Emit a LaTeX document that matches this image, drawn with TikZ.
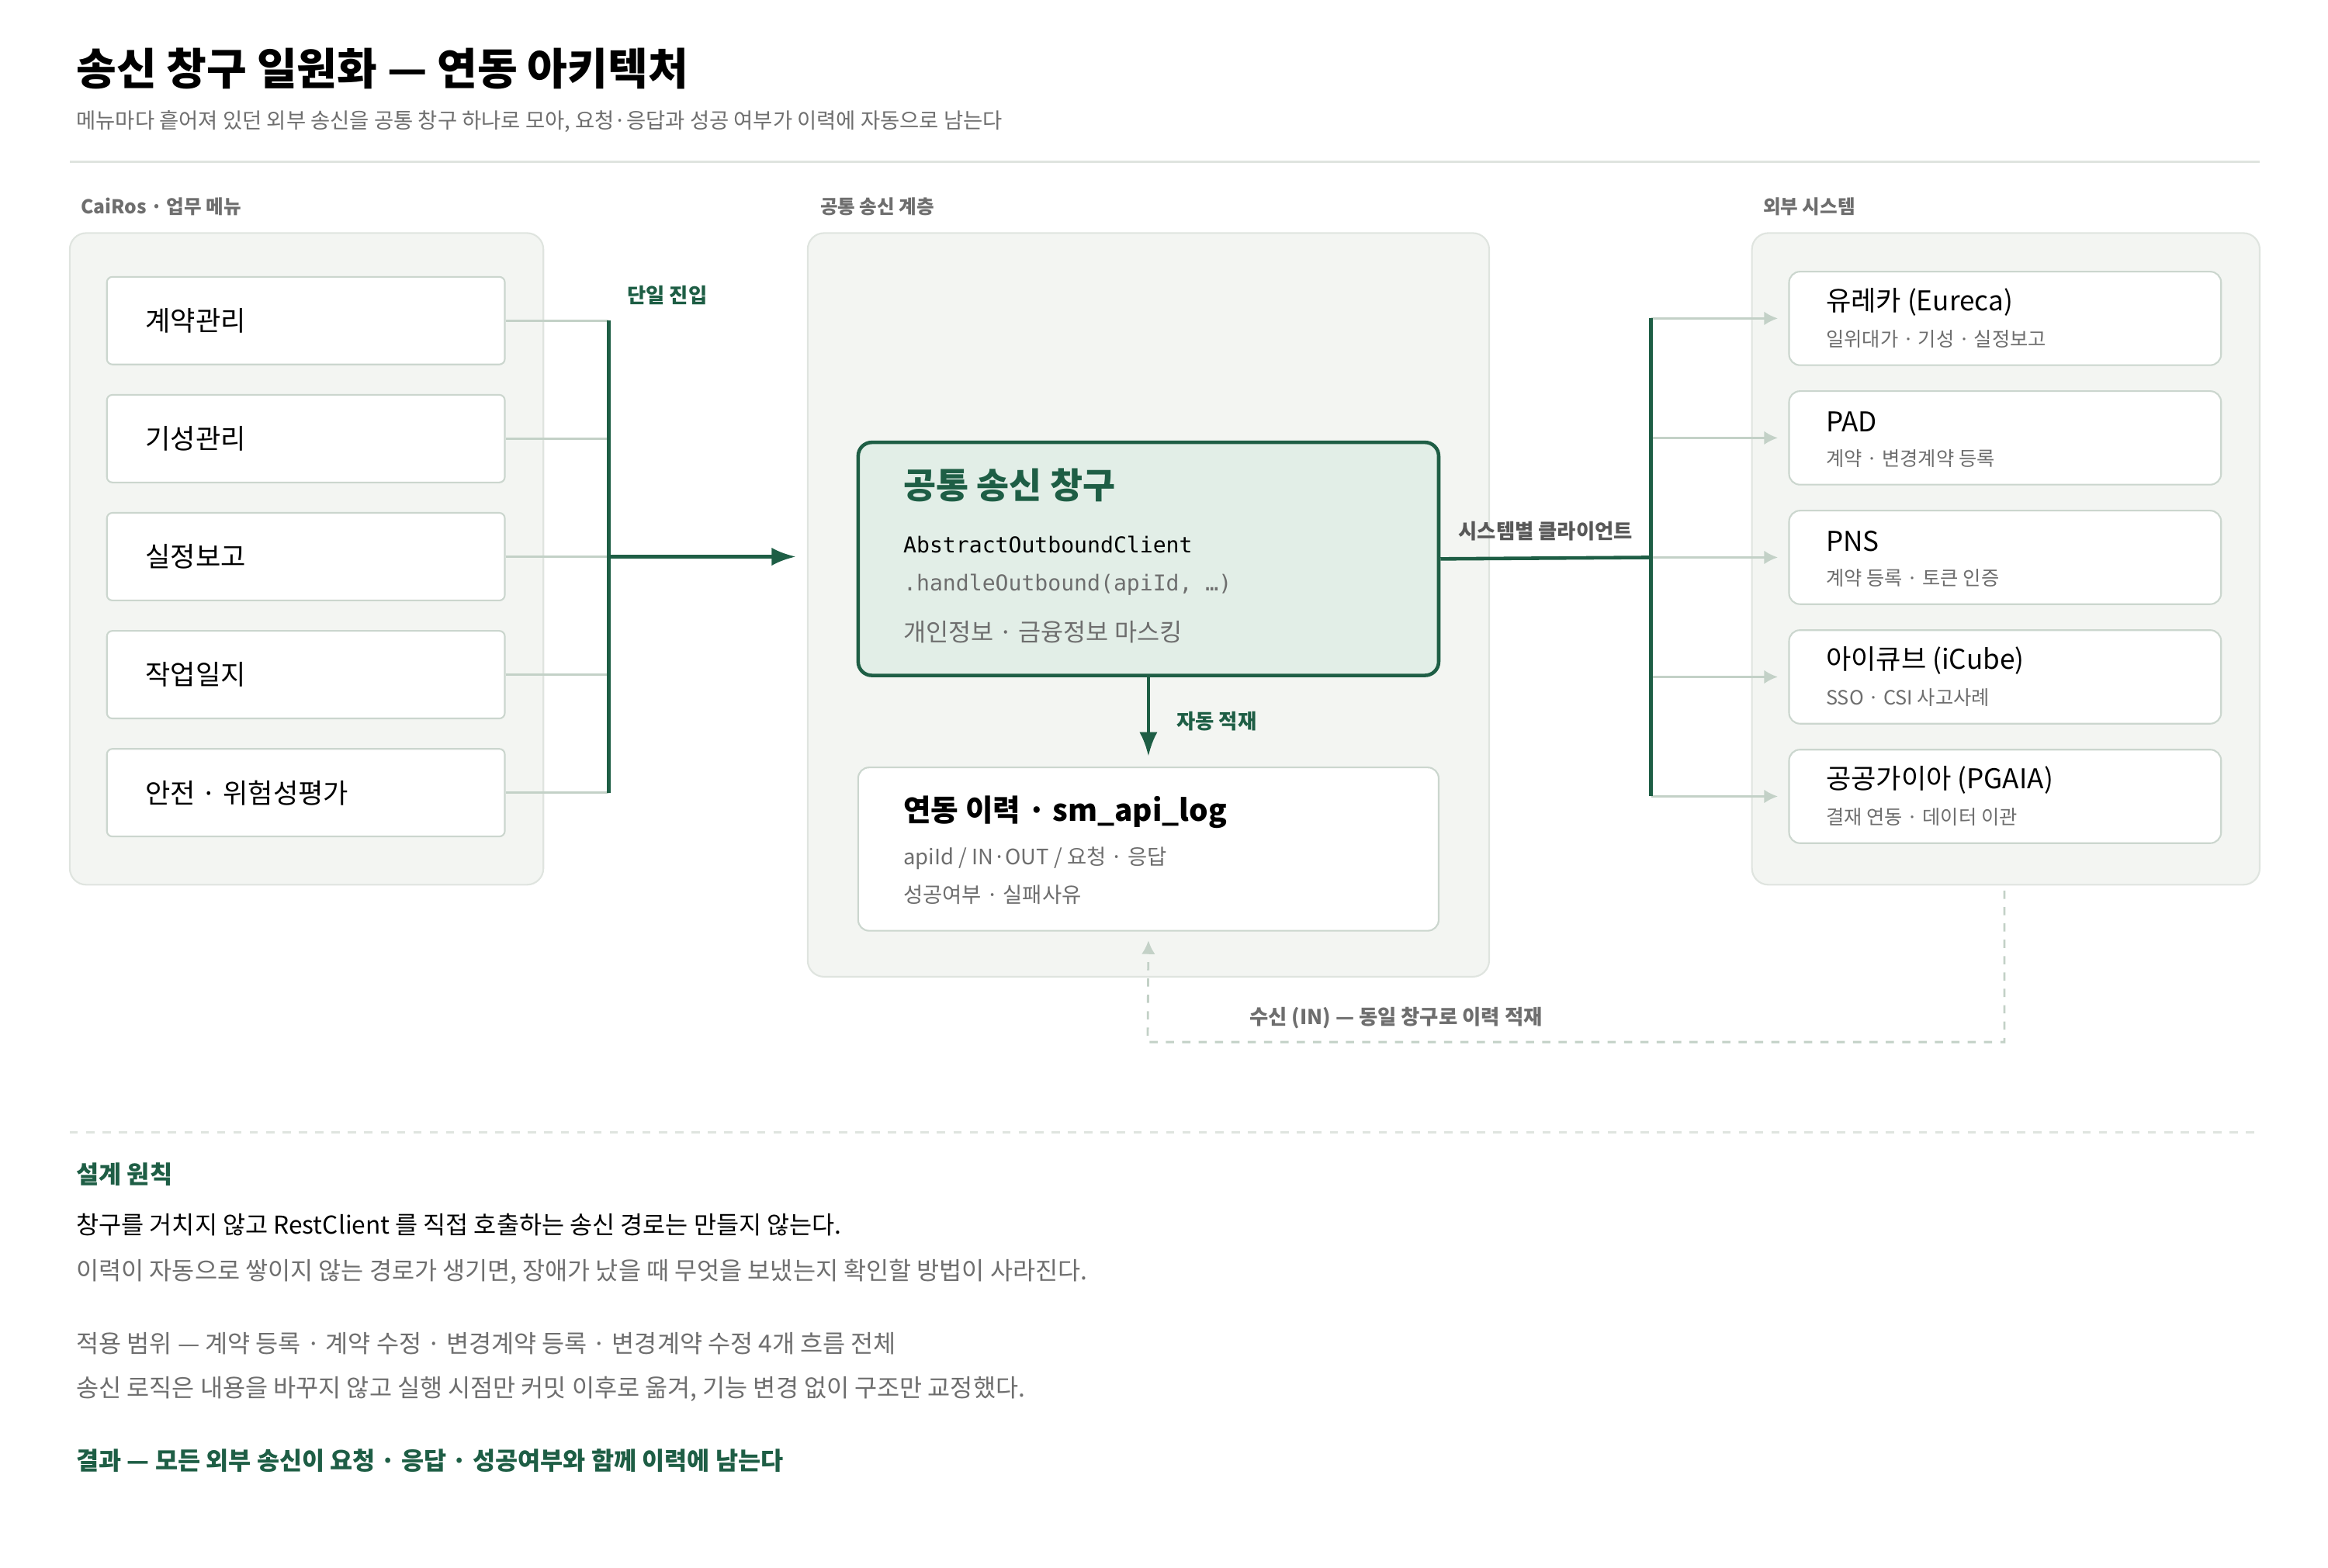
\documentclass[tikz,border=0pt]{standalone}
\usepackage{fontspec}
\setmainfont{Noto Sans CJK KR}
\setmonofont{DejaVu Sans Mono}
\usetikzlibrary{positioning,calc,arrows.meta}
\tikzset{>=Latex}
\definecolor{dgreen}{HTML}{1E5E45}
\definecolor{lgreen}{HTML}{E2EEE7}
\definecolor{panelbg}{HTML}{F3F5F2}
\definecolor{panelln}{HTML}{DFE4DF}
\definecolor{boxln}{HTML}{CBD6CE}
\definecolor{txtgray}{HTML}{6E6E6E}
\definecolor{conn}{HTML}{C3D1C7}
\newcommand\px[1]{#1*0.01913cm}
\begin{document}
\begin{tikzpicture}[x=0.01913cm,y=-0.01913cm,
                    panel/.style={draw=panelln,fill=panelbg,rounded corners=6pt,line width=0.6pt},
                    menu/.style={draw=boxln,fill=white,rounded corners=2pt,line width=0.6pt,
                                 minimum width={\px{268}},minimum height={\px{59}}},
                    ext/.style={draw=boxln,fill=white,rounded corners=4pt,line width=0.6pt,
                                minimum width={\px{291}},minimum height={\px{63}}},
                    seclabel/.style={anchor=west,font=\fontsize{7}{8}\selectfont\bfseries,text=txtgray},
                    grayline/.style={anchor=west,font=\fontsize{9}{11}\selectfont,text=txtgray},
                    light/.style={draw=conn,line width=0.8pt},
                    strong/.style={draw=dgreen,line width=1.3pt}
        ]
\useasboundingbox (0,0) rectangle (1568,1056);
% heading
\node[anchor=west,font=\fontsize{16}{18}\selectfont\bfseries] (title) at (45,46) {송신 창구 일원화 — 연동 아키텍처};
\node[anchor=west,font=\fontsize{7.8}{9}\selectfont,text=txtgray] (subtitle) at (45,82)
    {메뉴마다 흩어져 있던 외부 송신을 공통 창구 하나로 모아, 요청·응답과 성공 여부가 이력에 자동으로 남는다};
\draw[panelln,line width=0.8pt] (47,109) -- (1522,109);

% panels
\node[seclabel] (lblmenu) at (48,139) {CaiRos · 업무 메뉴};
\node[seclabel] (lblcore) at (546,139) {공통 송신 계층};
\node[seclabel] (lblext) at (1181,139) {외부 시스템};
\draw[panel] (47,157) rectangle (366,596);
\draw[panel] (544,157) rectangle (1003,658);
\draw[panel] (1180,157) rectangle (1522,596);

% menu boxes
\foreach \t [count=\i] in {계약관리,기성관리,실정보고,작업일지,안전 · 위험성평가} {
    \node[menu] (m\i) at (206,{216+79.5*(\i-1)}) {};
    \node[anchor=west,font=\fontsize{10}{12}\selectfont] at ([xshift={\px{20}}]m\i.west) {\t};
    \coordinate (j\i) at (410,{216+79.5*(\i-1)});
    \path[light] (m\i.east) -- (j\i);
}
\path[strong] (j1) -- (j5);
\node[anchor=west,font=\fontsize{7.5}{9}\selectfont\bfseries,text=dgreen] (lblentry) at (416,199) {단일 진입};

% core
\node[draw=dgreen,fill=lgreen,line width=1.3pt,rounded corners=5pt,
      minimum width={\px{391}},minimum height={\px{157}}] (core) at (773.5,376.5) {};
\node[anchor=west,font=\fontsize{13}{15}\selectfont\bfseries,text=dgreen] (coret) at (602,327) {공통 송신 창구};
\node[anchor=west,font=\ttfamily\fontsize{8}{10}\selectfont] (corem) at (602,367) {AbstractOutboundClient};
\node[anchor=west,font=\ttfamily\fontsize{8}{10}\selectfont,text=txtgray] (coreh) at (602,394) {.handleOutbound(apiId, …)};
\node[anchor=west,font=\fontsize{9}{11}\selectfont,text=txtgray] (corep) at (602,426) {개인정보 · 금융정보 마스킹};
\path[strong,->] (j3) -- (536,375);

\node[draw=boxln,fill=white,line width=0.6pt,rounded corners=4pt,
      minimum width={\px{391}},minimum height={\px{110}}] (log) at (773.5,572) {};
\node[anchor=west,font=\fontsize{11}{13}\selectfont\bfseries] (logt) at (602,547) {연동 이력 · sm\_api\_log};
\node[grayline,font=\fontsize{7.8}{9}\selectfont] (loga) at (602,578) {apiId / IN·OUT / 요청 · 응답};
\node[grayline,font=\fontsize{7.8}{9}\selectfont] (logb) at (602,603) {성공여부 · 실패사유};
\draw[strong,->] (core.south) -- ([yshift={\px{7}}]log.north);
\node[anchor=west,font=\fontsize{7.5}{9}\selectfont\bfseries,text=dgreen] (lblauto) at (786,486) {자동 적재};

% external systems
\foreach \t/\s [count=\i] in {유레카 (Eureca)/일위대가 · 기성 · 실정보고,
                              PAD/계약 · 변경계약 등록,
                              PNS/계약 등록 · 토큰 인증,
                              아이큐브 (iCube)/SSO · CSI 사고사례,
                              공공가이아 (PGAIA)/결재 연동 · 데이터 이관} {
    \node[ext] (e\i) at (1350.5,{214.5+80.5*(\i-1)}) {};
    \node[anchor=west,font=\fontsize{10}{12}\selectfont] at ([xshift={\px{19}},yshift={\px{11}}]e\i.west) {\t};
    \node[anchor=west,font=\fontsize{7.2}{9}\selectfont,text=txtgray] at ([xshift={\px{19}},yshift={\px{-14}}]e\i.west) {\s};
    \coordinate (k\i) at (1112,{214.5+80.5*(\i-1)});
    \draw[light,-{Latex[length=5pt,width=5pt]}] (k\i) -- ([xshift={\px{-7}}]e\i.west);
}
\path[strong] (core.east) -- (k3);
\path[strong] (k1) -- (k5);
\node[font=\fontsize{7.5}{9}\selectfont\bfseries,text=txtgray!80!black] (lblclient) at (1041,358) {시스템별 클라이언트};

% inbound
\coordinate (in1) at (1350,600);
\draw[light,dashed,-{Latex[length=5pt,width=5pt]}] (in1) |- (773,702) -- ([yshift={\px{-6}}]log.south);
\node[anchor=west,font=\fontsize{7.5}{9}\selectfont\bfseries,text=txtgray] (lblin) at (835,686) {수신 (IN) — 동일 창구로 이력 적재};

% principles
\draw[panelln,dashed,line width=0.8pt] (47,763) -- (1522,763);
\node[anchor=west,font=\fontsize{9}{11}\selectfont\bfseries,text=dgreen] (ph) at (45,791) {설계 원칙};
\node[anchor=west,font=\fontsize{9}{11}\selectfont] (p1) at (45,825) {창구를 거치지 않고 RestClient 를 직접 호출하는 송신 경로는 만들지 않는다.};
\node[grayline] (p2) at (45,857) {이력이 자동으로 쌓이지 않는 경로가 생기면, 장애가 났을 때 무엇을 보냈는지 확인할 방법이 사라진다.};
\node[grayline] (p3) at (45,905) {적용 범위 — 계약 등록 · 계약 수정 · 변경계약 등록 · 변경계약 수정 4개 흐름 전체};
\node[grayline] (p4) at (45,936) {송신 로직은 내용을 바꾸지 않고 실행 시점만 커밋 이후로 옮겨, 기능 변경 없이 구조만 교정했다.};
\node[anchor=west,font=\fontsize{9}{11}\selectfont\bfseries,text=dgreen] (res) at (45,984) {결과 — 모든 외부 송신이 요청 · 응답 · 성공여부와 함께 이력에 남는다};
\end{tikzpicture}
\end{document}
